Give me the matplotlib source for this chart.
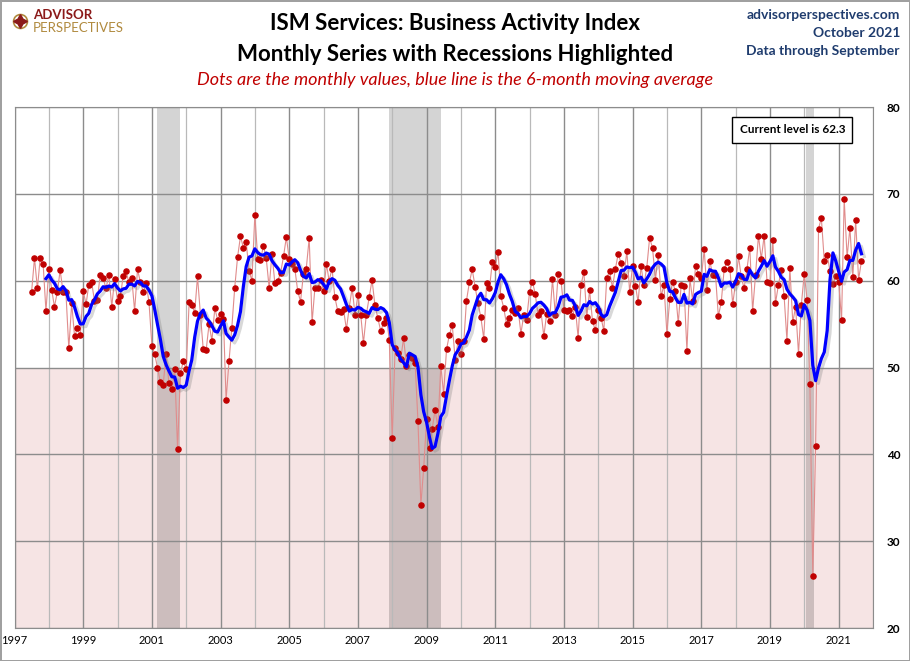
import matplotlib
matplotlib.use('Agg')
import matplotlib.pyplot as plt
import matplotlib.dates as mdates
import matplotlib.patheffects as pe
from matplotlib.lines import Line2D
import pandas as pd

plt.rcParams['font.family'] = ['Lato', 'DejaVu Sans']

# monthly ISM services business activity values, Jul 1997 - Sep 2021
start_month = '1997-07-01'
values = [
    58.7, 62.6, 59.1, 62.6, 61.9, 56.5,                                      # 1997 Jul-Dec
    61.4, 58.9, 57.0, 58.7, 61.2, 58.7, 58.7, 52.2, 57.4, 53.6, 54.5, 53.7,  # 1998
    58.8, 57.3, 59.5, 59.8, 57.7, 57.8, 60.7, 60.3, 59.1, 60.7, 57.0, 60.2,  # 1999
    57.7, 58.2, 60.5, 61.1, 59.8, 60.3, 56.5, 61.3, 59.8, 58.7, 59.7, 57.5,  # 2000
    52.5, 51.5, 50.0, 48.3, 48.0, 51.6, 48.2, 47.5, 49.8, 40.6, 49.4, 50.7,  # 2001
    49.8, 57.5, 57.2, 56.3, 60.5, 56.1, 52.1, 52.0, 55.0, 53.1, 56.8, 55.5,  # 2002
    56.2, 55.6, 46.3, 50.7, 54.6, 59.2, 62.7, 65.1, 63.8, 64.4, 61.1, 60.0,  # 2003
    67.6, 62.5, 62.4, 64.0, 62.6, 59.2, 63.1, 59.7, 60.0, 60.9, 62.8, 65.0,  # 2004
    62.5, 61.9, 61.4, 58.8, 57.6, 60.8, 61.4, 64.9, 55.2, 59.2, 59.2, 60.1,  # 2005
    58.8, 61.9, 60.0, 61.4, 58.1, 56.5, 56.4, 56.7, 54.4, 56.9, 59.2, 56.1,  # 2006
    58.3, 56.0, 52.8, 56.1, 58.1, 60.1, 57.2, 55.7, 54.2, 55.1, 55.7, 53.2,  # 2007
    41.9, 52.2, 51.7, 51.0, 53.4, 50.2, 51.4, 51.1, 50.5, 43.8, 34.2, 38.4,  # 2008
    44.1, 40.7, 42.9, 45.1, 43.1, 50.2, 47.0, 52.1, 53.8, 54.9, 50.9, 53.0,  # 2009
    51.5, 53.0, 57.7, 59.8, 61.3, 59.3, 57.4, 55.8, 53.3, 59.7, 59.1, 62.2,  # 2010
    61.6, 63.3, 58.2, 56.9, 55.0, 55.7, 56.6, 56.3, 56.8, 53.9, 56.1, 55.5,  # 2011
    58.7, 59.9, 58.5, 56.0, 56.5, 53.6, 56.2, 55.3, 60.2, 56.1, 60.8, 60.0,  # 2012
    56.6, 56.5, 56.6, 55.9, 57.0, 53.4, 59.5, 61.0, 55.8, 58.9, 55.3, 54.3,  # 2013
    56.6, 55.7, 54.2, 60.3, 61.1, 59.2, 61.3, 63.1, 62.0, 60.5, 63.4, 58.7,  # 2014
    61.7, 59.4, 57.5, 61.7, 59.5, 61.5, 64.9, 63.8, 60.1, 63.0, 58.2, 59.5,  # 2015
    53.9, 57.9, 59.8, 58.8, 55.1, 59.5, 59.4, 51.9, 60.3, 57.7, 61.7, 60.8,  # 2016
    60.3, 63.6, 58.9, 62.3, 60.7, 60.7, 55.9, 57.5, 61.3, 62.2, 61.4, 57.3,  # 2017
    59.8, 62.8, 60.5, 59.1, 61.3, 63.8, 56.5, 60.7, 65.2, 62.5, 65.2, 59.9,  # 2018
    59.7, 64.7, 57.4, 59.5, 61.2, 58.2, 53.1, 61.5, 55.2, 57.0, 51.6, 57.2,  # 2019
    60.8, 57.8, 48.1, 26.0, 41.0, 66.0, 67.2, 62.3, 63.0, 61.1, 59.6, 60.5,  # 2020
    59.9, 55.5, 69.4, 62.7, 66.1, 60.4, 67.0, 60.1, 62.3,                    # 2021 Jan-Sep
]

recession_starts = ['2001-03-01', '2007-12-01', '2020-01-20']
recession_ends = ['2001-11-01', '2009-06-01', '2020-04-10']

labeled_years = list(range(1997, 2022, 2))
all_years = list(range(1997, 2023))

dates = pd.date_range(start_month, periods=len(values), freq='MS')
s = pd.Series(values, index=dates)
ma6 = s.rolling(6).mean()

fig = plt.figure(figsize=(9.1, 6.61), dpi=100, linewidth=1, edgecolor='#a0a0a0')
ax = fig.add_axes([0.016, 0.0499, 0.9433, 0.7882])

# pink zone below 50
ax.axhspan(20, 50, color='#f6e4e4', zorder=0, lw=0)

# recessions
for a, b in zip(recession_starts, recession_ends):
    ax.axvspan(pd.Timestamp(a), pd.Timestamp(b), color='black', alpha=0.17, lw=0, zorder=1)

# grid: odd (labelled) years darker, other years lighter
major = [mdates.date2num(pd.Timestamp(f'{y}-01-01')) for y in labeled_years]
minor = [mdates.date2num(pd.Timestamp(f'{y}-01-01')) for y in all_years if y not in labeled_years]
ax.set_xticks(major)
ax.set_xticklabels([str(y) for y in labeled_years])
ax.set_xticks(minor, minor=True)
ax.grid(which='major', axis='x', color='#8c8c8c', lw=1.0, zorder=2)
ax.grid(which='minor', axis='x', color='#b9b9b9', lw=0.9, zorder=2)
ax.grid(which='major', axis='y', color='#8c8c8c', lw=1.0, zorder=2)

ax.plot(s.index, s.values, color='#e08c8c', lw=0.8, zorder=3)
ax.plot(s.index, s.values, 'o', color='#c00000', ms=3.7, mec='#c00000', zorder=4)
ax.plot(ma6.index, ma6.values, color='#0000ff', lw=2.3, zorder=5,
        path_effects=[pe.SimpleLineShadow(offset=(2, -2), shadow_color='#808080', alpha=0.3),
                      pe.Normal()])

ax.set_xlim(pd.Timestamp('1997-01-01'), pd.Timestamp('2022-01-01'))
ax.set_ylim(20, 80)
ax.set_yticks([20, 30, 40, 50, 60, 70, 80])
ax.yaxis.tick_right()
ax.tick_params(axis='y', length=0, pad=10, labelsize=8.5)
ax.tick_params(axis='x', which='both', length=0, pad=5, labelsize=8)
for lab in ax.get_yticklabels():
    lab.set_fontweight('bold')
for sp in ax.spines.values():
    sp.set_color('#8c8c8c')

ax.text(0.906, 0.956, 'Current level is %.1f' % values[-1], transform=ax.transAxes,
        ha='center', va='center', fontsize=8.5, fontweight='bold', zorder=6,
        bbox=dict(boxstyle='square,pad=0.6', fc='white', ec='black', lw=1))

# titles
fig.text(0.5, 0.964, 'ISM Services: Business Activity Index', ha='center', va='center',
         fontsize=16, fontweight='bold')
fig.text(0.5, 0.917, 'Monthly Series with Recessions Highlighted', ha='center', va='center',
         fontsize=16, fontweight='bold')
fig.text(0.5, 0.879, 'Dots are the monthly values, blue line is the 6-month moving average',
         ha='center', va='center', fontsize=13, style='italic', color='#c00000')

hdr = '#1f3c6e'
fig.text(0.989, 0.977, 'advisorperspectives.com', ha='right', va='center', fontsize=10,
         fontweight='bold', color=hdr)
fig.text(0.989, 0.950, 'October 2021', ha='right', va='center', fontsize=10,
         fontweight='bold', color=hdr)
fig.text(0.989, 0.923, 'Data through September', ha='right', va='center', fontsize=10,
         fontweight='bold', color=hdr)

# logo
fig.add_artist(Line2D([0.0215], [0.968], marker='o', ms=10, mfc='none', mec='#b08a3e',
                      mew=1.2, transform=fig.transFigure))
fig.add_artist(Line2D([0.0215], [0.968], marker=(4, 1, 0), ms=10, color='#8b1a1a',
                      transform=fig.transFigure))
fig.text(0.036, 0.977, 'ADVISOR', ha='left', va='center', fontsize=9.5, fontweight='bold',
         color='#8b1a1a')
fig.text(0.036, 0.958, 'PERSPECTIVES', ha='left', va='center', fontsize=9.5,
         color='#b08a3e')

fig.savefig('out.png', dpi=100)
